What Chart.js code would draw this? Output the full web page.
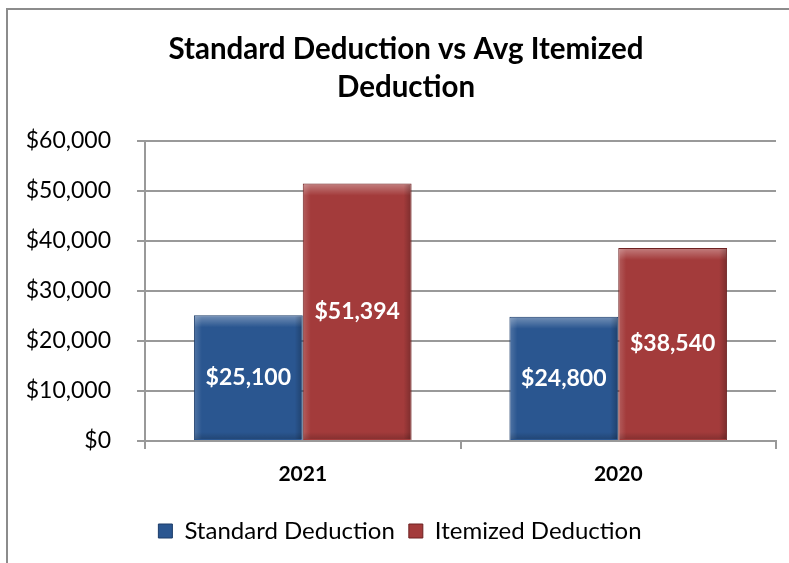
<!DOCTYPE html>
<html>
<head>
<meta charset="utf-8">
<script src="https://cdn.jsdelivr.net/npm/chart.js@4.4.0/dist/chart.umd.min.js"></script>
<style>
  html, body { margin: 0; padding: 0; background: #fff; overflow: hidden; }
  #wrap { position: absolute; left: 6px; top: 8px; width: 796px; height: 580px; border: 2px solid #8c8c8c; background: #fff; }
</style>
</head>
<body>
<div id="wrap"><canvas id="chart"></canvas></div>
<script>
// данные графика
const years = ['2021', '2020'];
const standardDeduction = [25100, 24800];
const itemizedDeduction = [51394, 38540];
const titleLines = ['Standard Deduction vs Avg Itemized', 'Deduction'];
const seriesNames = ['Standard Deduction', 'Itemized Deduction'];

const FONT = 'Lato, "Open Sans", sans-serif';
const fmt = v => '$' + v.toLocaleString('en-US');

// объемный вид столбиков (фаска)
const bevelPlugin = {
  id: 'bevel',
  afterDatasetsDraw(chart) {
    const ctx = chart.ctx;
    chart.data.datasets.forEach((ds, i) => {
      chart.getDatasetMeta(i).data.forEach(bar => {
        const left = bar.x - bar.width / 2, right = bar.x + bar.width / 2;
        const top = bar.y, bottom = bar.base;
        ctx.save();
        // светлая полоска сверху
        let g = ctx.createLinearGradient(0, top, 0, top + 12);
        g.addColorStop(0, 'rgba(255,255,255,0.35)');
        g.addColorStop(1, 'rgba(255,255,255,0)');
        ctx.fillStyle = g;
        ctx.fillRect(left + 1, top + 1, bar.width - 2, 12);
        // светлый левый край
        g = ctx.createLinearGradient(left, 0, left + 8, 0);
        g.addColorStop(0, 'rgba(255,255,255,0.18)');
        g.addColorStop(1, 'rgba(255,255,255,0)');
        ctx.fillStyle = g;
        ctx.fillRect(left + 1, top + 1, 8, bottom - top - 2);
        // темный правый край
        g = ctx.createLinearGradient(right - 8, 0, right, 0);
        g.addColorStop(0, 'rgba(0,0,0,0)');
        g.addColorStop(1, 'rgba(0,0,0,0.25)');
        ctx.fillStyle = g;
        ctx.fillRect(right - 9, top + 1, 8, bottom - top - 2);
        // темный низ
        g = ctx.createLinearGradient(0, bottom - 8, 0, bottom);
        g.addColorStop(0, 'rgba(0,0,0,0)');
        g.addColorStop(1, 'rgba(0,0,0,0.2)');
        ctx.fillStyle = g;
        ctx.fillRect(left + 1, bottom - 9, bar.width - 2, 8);
        ctx.restore();
      });
    });
  }
};

// подписи значений в центре столбиков
const valueLabels = {
  id: 'valueLabels',
  afterDatasetsDraw(chart) {
    const ctx = chart.ctx;
    ctx.save();
    ctx.font = 'bold 23px ' + FONT;
    ctx.fillStyle = '#ffffff';
    ctx.textAlign = 'center';
    ctx.textBaseline = 'middle';
    chart.data.datasets.forEach((ds, i) => {
      chart.getDatasetMeta(i).data.forEach((bar, j) => {
        ctx.fillText(fmt(ds.data[j]), bar.x, (bar.y + bar.base) / 2);
      });
    });
    ctx.restore();
  }
};

// заголовок и легенда в оригинале центрированы по всей рамке, а не по области без правого отступа
const shiftBoxes = {
  id: 'shiftBoxes',
  afterLayout(chart) {
    const t = chart.titleBlock;
    if (t) { t.left += 14; t.right += 14; }
    const l = chart.legend;
    if (l) {
      l.left += 8; l.right += 8;
      (l.legendHitBoxes || []).forEach(h => { h.left += 8; });
    }
  }
};

new Chart(document.getElementById('chart'), {
  type: 'bar',
  data: {
    labels: years,
    datasets: [
      { label: seriesNames[0], data: standardDeduction, backgroundColor: '#2a5690', borderColor: '#1c3d69', borderWidth: 1 },
      { label: seriesNames[1], data: itemizedDeduction, backgroundColor: '#a33b3b', borderColor: '#6e2222', borderWidth: 1 }
    ]
  },
  options: {
    responsive: true,
    maintainAspectRatio: false,
    animation: false,
    categoryPercentage: 0.69,
    barPercentage: 1.0,
    layout: { padding: { left: 0, right: 28, top: 0, bottom: 37 } },
    plugins: {
      title: {
        display: true,
        text: titleLines,
        color: '#000',
        font: { family: FONT, size: 29.5, weight: 'bold', lineHeight: 1.28 },
        padding: { top: 21, bottom: 34 }
      },
      legend: {
        position: 'bottom',
        labels: {
          color: '#000',
          font: { family: FONT, size: 24 },
          boxWidth: 14,
          boxHeight: 14,
          padding: 14
        }
      },
      tooltip: { enabled: false }
    },
    scales: {
      x: {
        afterFit(scale) { scale.height = 64; },
        grid: { display: true, drawOnChartArea: false, drawTicks: true, tickLength: 8, color: '#999', lineWidth: 2 },
        border: { color: '#999', width: 2 },
        ticks: { color: '#000', font: { family: FONT, size: 21, weight: 'bold' }, padding: 13 }
      },
      y: {
        min: 0,
        max: 60000,
        afterFit(scale) { scale.width = 137; },
        grid: { color: '#999', lineWidth: 2, tickLength: 8 },
        border: { color: '#999', width: 2 },
        ticks: { stepSize: 10000, color: '#000', font: { family: FONT, size: 23 }, padding: 26, callback: v => fmt(v) }
      }
    }
  },
  plugins: [bevelPlugin, valueLabels, shiftBoxes]
});
</script>
</body>
</html>
